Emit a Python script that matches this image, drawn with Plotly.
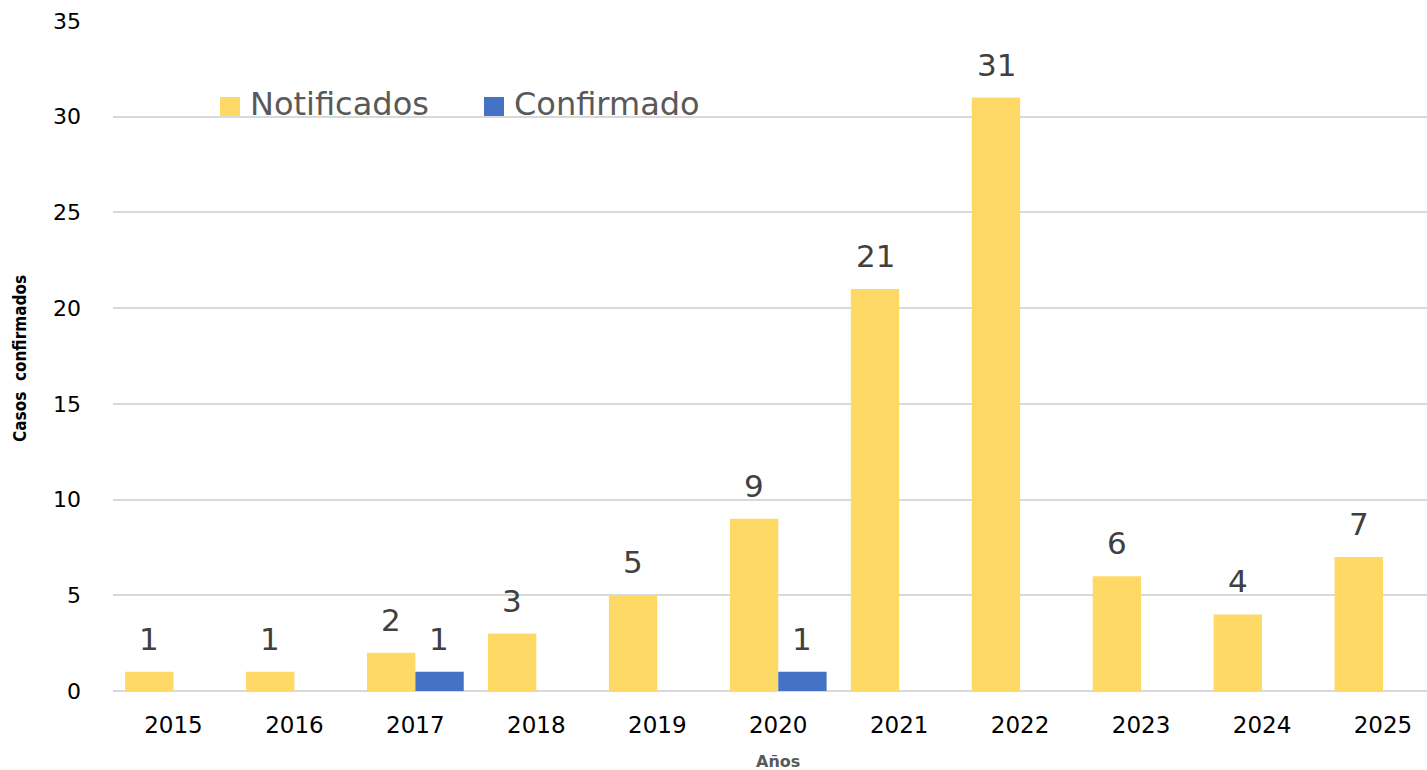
import plotly.graph_objects as go

years = ["2015", "2016", "2017", "2018", "2019", "2020", "2021", "2022", "2023", "2024", "2025"]
notificados = [1, 1, 2, 3, 5, 9, 21, 31, 6, 4, 7]
confirmado = [0, 0, 1, 0, 0, 1, 0, 0, 0, 0, 0]
y_ticks = [0, 5, 10, 15, 20, 25, 30, 35]
series_names = ["Notificados", "Confirmado"]

YELLOW = "#FFD966"
BLUE = "#4472C4"
LABEL_COLOR = "#404040"
LEGEND_COLOR = "#595959"
GRID = "#D9D9D9"
FONT = "DejaVu Sans"

W, H = 1427, 770
L, R, T, B = 113, 0, 21, 79
PW, PH = W - L - R, H - T - B


def px_x(p):
    return (p - L) / PW


def px_y(p):
    return (H - B - p) / PH


fig = go.Figure()
fig.add_trace(go.Bar(name=series_names[0], x=years, y=notificados, showlegend=False,
                     marker=dict(color=YELLOW, line=dict(width=0))))
fig.add_trace(go.Bar(name=series_names[1], x=years, y=confirmado, showlegend=False,
                     marker=dict(color=BLUE, line=dict(width=0))))

# value labels above each non-zero bar, offset to the bar's slot in the group
annotations = []
for series, shift in ((notificados, -24), (confirmado, 24)):
    for i, v in enumerate(series):
        if v > 0:
            annotations.append(dict(x=i, y=v, text=str(v), showarrow=False,
                                    xref="x", yref="y", xshift=shift, yshift=13,
                                    yanchor="bottom", xanchor="center",
                                    font=dict(family=FONT, size=31, color=LABEL_COLOR)))

# legend: square swatch + label
shapes = []
for name, color, sx in ((series_names[0], YELLOW, 220), (series_names[1], BLUE, 484)):
    shapes.append(dict(type="rect", xref="paper", yref="paper",
                       x0=px_x(sx), x1=px_x(sx + 20), y0=px_y(116), y1=px_y(97),
                       fillcolor=color, line=dict(width=0)))
    annotations.append(dict(text=name, showarrow=False, xref="paper", yref="paper",
                            x=px_x(sx + 28), y=px_y(104), xanchor="left", yanchor="middle",
                            font=dict(family=FONT, size=32, color=LEGEND_COLOR)))

# axis titles
annotations.append(dict(text="Casos  confirmados", textangle=-90, showarrow=False,
                        xref="paper", yref="paper", x=px_x(20), y=px_y(359),
                        xanchor="center", yanchor="middle",
                        font=dict(family="DejaVu Sans Condensed, DejaVu Sans",
                                  size=17, color="#000000", weight="bold")))
annotations.append(dict(text="Años", showarrow=False,
                        xref="paper", yref="paper", x=px_x(778), y=px_y(761),
                        xanchor="center", yanchor="middle",
                        font=dict(family=FONT, size=16, color=LEGEND_COLOR, weight="bold")))

fig.update_layout(
    width=W, height=H,
    margin=dict(l=L, r=R, t=T, b=B),
    plot_bgcolor="white", paper_bgcolor="white",
    barmode="group", bargap=0.2, bargroupgap=0,
    font=dict(family=FONT),
    showlegend=False,
    annotations=annotations,
    shapes=shapes,
    xaxis=dict(type="category", range=[-0.5, 10.364], showgrid=False,
               showline=False, ticks="", tickfont=dict(family=FONT, size=23, color="#000000"),
               ticklabelstandoff=18),
    yaxis=dict(range=[0, 35], tickvals=y_ticks, showgrid=True, gridcolor=GRID, gridwidth=2,
               zeroline=True, zerolinecolor=GRID, zerolinewidth=2, showline=False, ticks="",
               tickfont=dict(family=FONT, size=22, color="#000000"),
               ticklabelstandoff=31),
)

fig.write_html("out.html")
